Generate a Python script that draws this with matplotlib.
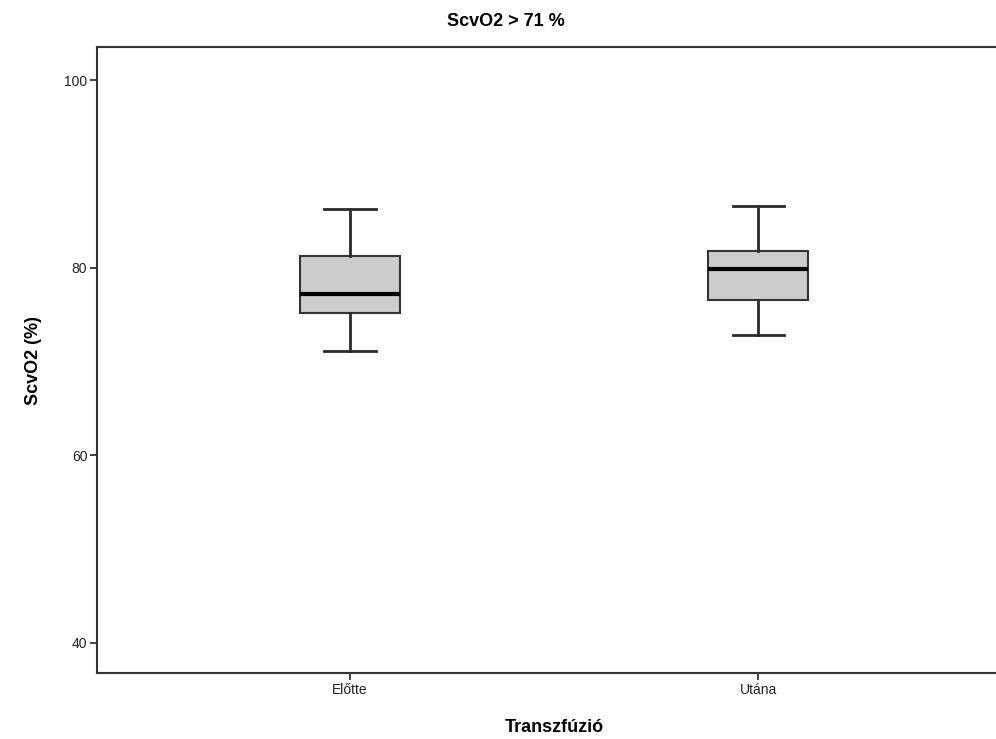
import matplotlib
matplotlib.use("Agg")
import matplotlib.pyplot as plt

# box statistics (ScvO2 %)
groups = ["Előtte", "Utána"]
whisker_low = [71.1, 72.8]
q1 = [75.15, 76.5]
median = [77.15, 79.85]
q3 = [81.2, 81.75]
whisker_high = [86.25, 86.55]

plt.rcParams['font.family'] = ['Liberation Sans', 'DejaVu Sans']

fig = plt.figure(figsize=(9.96, 7.39), dpi=100)
ax = fig.add_axes([0.0974, 0.0893, 0.9177, 0.8471])

stats = []
for i in range(len(groups)):
    stats.append({
        'label': groups[i],
        'whislo': whisker_low[i],
        'q1': q1[i],
        'med': median[i],
        'q3': q3[i],
        'whishi': whisker_high[i],
        'fliers': [],
    })

ax.bxp(stats, positions=[1, 2], widths=0.245, showfliers=False, patch_artist=True,
       boxprops=dict(facecolor='#cccccc', edgecolor='#333333', linewidth=1.5),
       medianprops=dict(color='black', linewidth=3),
       whiskerprops=dict(color='#2a2a2a', linewidth=2),
       capprops=dict(color='#2a2a2a', linewidth=2),
       capwidths=0.125)

ax.set_xlim(0.38, 2.62)
ax.set_ylim(36.75, 103.52)
ax.set_yticks([40, 60, 80, 100])
ax.set_xticks([1, 2])
ax.set_xticklabels(groups)

for s in ax.spines.values():
    s.set_color('#333333')
    s.set_linewidth(1.5)

ax.tick_params(axis='both', direction='out', length=5, width=1.3, color='#333333',
               labelsize=10, labelcolor='#222222', pad=2)

ax.set_ylabel("ScvO2 (%)", fontsize=13, fontweight='bold', labelpad=16)
ax.set_xlabel("Transzfúzió", fontsize=13, fontweight='bold', labelpad=16)
fig.text(0.5075, 0.971, "ScvO2 > 71 %", ha='center', va='center', fontsize=13,
         fontweight='bold')

fig.savefig("out.png", dpi=100)
